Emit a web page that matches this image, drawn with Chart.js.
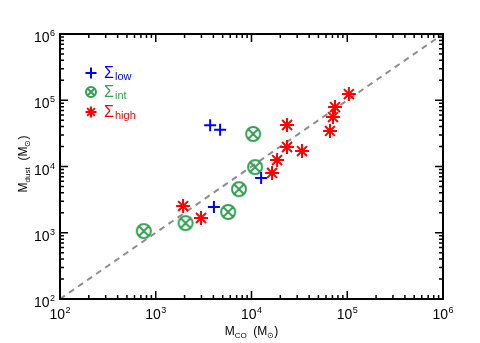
<!DOCTYPE html>
<html>
<head>
<meta charset="utf-8">
<script src="https://cdn.jsdelivr.net/npm/chart.js@4/dist/chart.umd.min.js"></script>
<style>
  html, body { margin: 0; padding: 0; background: #fff; }
  #wrap { width: 480px; height: 343px; }
</style>
</head>
<body>
<div id="wrap"><canvas id="chart" width="480" height="343"></canvas></div>
<script>
'use strict';

// ── Data ──────────────────────────────────────────────────
const lowCO    = [3700, 4700, 4050, 12600];
const lowDust  = [42000, 36000, 2450, 6700];
const intCO    = [750, 2050, 5700, 7400, 10900, 10400];
const intDust  = [1060, 1400, 2060, 4550, 9800, 31000];
const highCO   = [1930, 2970, 16400, 18500, 23500, 23500, 33700, 66000, 71000, 74500, 104000];
const highDust = [2530, 1670, 8000, 12500, 19700, 42300, 17100, 34400, 55800, 79000, 124000];
const oneToOne = [100, 1000000];
const decadeTicks = [1e2, 1e3, 1e4, 1e5, 1e6];
const decadeExps  = ['2', '3', '4', '5', '6'];
const seriesNames = ['low', 'int', 'high'];

const BLUE  = '#0000ff';
const GREEN = '#35a055';
const RED   = '#ff0000';
const FONT  = "'Liberation Sans', Arial, sans-serif";

const pts = (xs, ys) => xs.map((x, i) => ({ x, y: ys[i] }));

// ── Symbols ───────────────────────────────────────────────
const drawOtimes = (ctx, cx, cy, r, color) => {
    ctx.save();
    ctx.strokeStyle = color;
    ctx.lineWidth = 2;
    ctx.beginPath();
    ctx.arc(cx, cy, r, 0, Math.PI * 2);
    const d = r * Math.SQRT1_2;
    ctx.moveTo(cx - d, cy - d); ctx.lineTo(cx + d, cy + d);
    ctx.moveTo(cx + d, cy - d); ctx.lineTo(cx - d, cy + d);
    ctx.stroke();
    ctx.restore();
};

const drawPlus = (ctx, cx, cy, r, color) => {
    ctx.save();
    ctx.strokeStyle = color; ctx.lineWidth = 2;
    ctx.beginPath();
    ctx.moveTo(cx - r, cy); ctx.lineTo(cx + r, cy);
    ctx.moveTo(cx, cy - r); ctx.lineTo(cx, cy + r);
    ctx.stroke();
    ctx.restore();
};

const drawStar = (ctx, cx, cy, r, color) => {
    ctx.save();
    ctx.strokeStyle = color; ctx.lineWidth = 2;
    ctx.beginPath();
    for (let k = 0; k < 4; k++) {
        const a = k * Math.PI / 4;
        ctx.moveTo(cx - r * Math.cos(a), cy - r * Math.sin(a));
        ctx.lineTo(cx + r * Math.cos(a), cy + r * Math.sin(a));
    }
    ctx.stroke();
    ctx.restore();
};

const otimesImg = document.createElement('canvas');
otimesImg.width = 18; otimesImg.height = 18;
drawOtimes(otimesImg.getContext('2d'), 9, 9, 7, GREEN);

// ── Text helpers ──────────────────────────────────────────
const drawPow = (ctx, exp, x, base, align) => {
    ctx.font = `14px ${FONT}`;
    const w1 = ctx.measureText('10').width;
    ctx.font = `9px ${FONT}`;
    const w2 = ctx.measureText(exp).width;
    const total = w1 + w2 + 0.5;
    let x0 = x;
    if (align === 'center') x0 = x - total / 2;
    if (align === 'right')  x0 = x - total;
    ctx.textAlign = 'left';
    ctx.textBaseline = 'alphabetic';
    ctx.font = `14px ${FONT}`;
    ctx.fillText('10', x0, base);
    ctx.font = `9px ${FONT}`;
    ctx.fillText(exp, x0 + w1 + 0.5, base - 6);
};

// parts: [text, size, dy]
const drawRich = (ctx, parts, x, base) => {
    let cx = x;
    parts.forEach(([t, size, dy]) => {
        ctx.font = `${size}px ${FONT}`;
        ctx.fillText(t, cx, base + dy);
        cx += ctx.measureText(t).width;
    });
    return cx - x;
};
const richWidth = (ctx, parts) => parts.reduce((s, [t, size]) => {
    ctx.font = `${size}px ${FONT}`;
    return s + ctx.measureText(t).width;
}, 0);

// ── Frame, ticks, labels, legend ──────────────────────────
const idlFrame = {
    id: 'idlFrame',
    afterDraw(chart) {
        const { ctx, chartArea: a, scales: { x, y } } = chart;
        ctx.save();
        ctx.fillStyle = '#000';
        ctx.strokeStyle = '#000';

        // ticks on all four sides, pointing in
        ctx.lineWidth = 1.5;
        ctx.beginPath();
        decadeTicks.forEach((v, i) => {
            const reps = i < decadeTicks.length - 1 ? [1, 2, 3, 4, 5, 6, 7, 8, 9] : [1];
            reps.forEach(k => {
                const len = k === 1 ? 8 : 4;
                const px = x.getPixelForValue(v * k);
                ctx.moveTo(px, a.bottom); ctx.lineTo(px, a.bottom - len);
                ctx.moveTo(px, a.top);    ctx.lineTo(px, a.top + len);
                const py = y.getPixelForValue(v * k);
                ctx.moveTo(a.left, py);  ctx.lineTo(a.left + len, py);
                ctx.moveTo(a.right, py); ctx.lineTo(a.right - len, py);
            });
        });
        ctx.stroke();

        ctx.lineWidth = 2;
        ctx.strokeRect(a.left, a.top, a.right - a.left, a.bottom - a.top);

        // tick labels
        decadeTicks.forEach((v, i) => {
            drawPow(ctx, decadeExps[i], x.getPixelForValue(v), a.bottom + 20, 'center');
            drawPow(ctx, decadeExps[i], a.left - 5, y.getPixelForValue(v) + 8, 'right');
        });

        // x title
        const xParts = [['M', 12, 0], ['CO', 8, 3], ['  (M', 12, 0], ['\u2299', 8, 3], [')', 12, 0]];
        const xw = richWidth(ctx, xParts);
        ctx.textAlign = 'left';
        drawRich(ctx, xParts, (a.left + a.right) / 2 - xw / 2, 335);

        // y title (rotated)
        const yParts = [['M', 12, 0], ['dust', 8, 3], ['  (M', 12, 0], ['\u2299', 8, 3], [')', 12, 0]];
        const yw = richWidth(ctx, yParts);
        ctx.save();
        ctx.translate(27, 164);
        ctx.rotate(-Math.PI / 2);
        drawRich(ctx, yParts, -yw / 2, 0);
        ctx.restore();

        // legend
        const colors = [BLUE, GREEN, RED];
        const symbols = [drawPlus, drawOtimes, drawStar];
        const sizes = [5.5, 5, 5.5];
        const rows = [73, 92, 112];
        seriesNames.forEach((name, i) => {
            symbols[i](ctx, 91, rows[i], sizes[i], colors[i]);
            ctx.fillStyle = colors[i];
            drawRich(ctx, [['\u03A3', 16, 0], [' ', 4, 0], [name, 11, 2]], 104, rows[i] + 5);
        });

        ctx.restore();
    }
};

// ── Chart ─────────────────────────────────────────────────
const logAxis = () => ({
    type: 'logarithmic',
    min: 100,
    max: 1000000,
    ticks: { display: false },
    grid: { display: false, drawTicks: false },
    border: { display: false },
    title: { display: false }
});

new Chart(document.getElementById('chart'), {
    type: 'scatter',
    data: {
        datasets: [
            {
                label: 'low',
                data: pts(lowCO, lowDust),
                pointStyle: 'cross',
                pointRadius: 6,
                borderColor: BLUE,
                backgroundColor: BLUE,
                borderWidth: 2
            },
            {
                label: 'int',
                data: pts(intCO, intDust),
                pointStyle: otimesImg,
                pointRadius: 8
            },
            {
                label: 'high',
                data: pts(highCO, highDust),
                pointStyle: 'star',
                pointRadius: 7,
                borderColor: RED,
                backgroundColor: RED,
                borderWidth: 2
            },
            {
                label: '1:1',
                type: 'line',
                data: pts(oneToOne, oneToOne),
                showLine: true,
                borderColor: '#8c8c8c',
                borderWidth: 2,
                borderDash: [6, 5],
                pointRadius: 0,
                fill: false
            }
        ]
    },
    options: {
        responsive: false,
        animation: false,
        events: [],
        layout: { padding: { left: 60, right: 37, top: 34, bottom: 44 } },
        plugins: { legend: { display: false }, tooltip: { enabled: false } },
        scales: { x: logAxis(), y: logAxis() }
    },
    plugins: [idlFrame]
});
</script>
</body>
</html>
